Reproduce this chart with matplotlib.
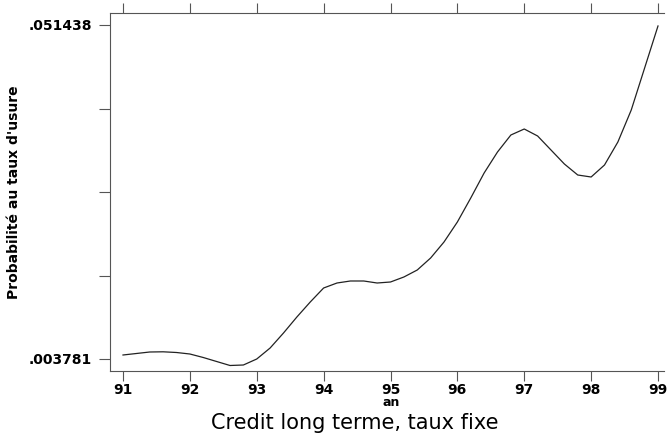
import matplotlib
matplotlib.use("Agg")
import matplotlib.pyplot as plt

# Data (year, probability)
years = [91.0, 91.2, 91.4, 91.6, 91.8, 92.0, 92.2, 92.4, 92.6, 92.8,
         93.0, 93.2, 93.4, 93.6, 93.8, 94.0, 94.2, 94.4, 94.6, 94.8,
         95.0, 95.2, 95.4, 95.6, 95.8, 96.0, 96.2, 96.4, 96.6, 96.8,
         97.0, 97.2, 97.4, 97.6, 97.8, 98.0, 98.2, 98.4, 98.6, 98.8, 99.0]
prob = [0.004352, 0.004566, 0.004780, 0.004808, 0.004708, 0.004494, 0.003995,
        0.003424, 0.002854, 0.002925, 0.003781, 0.005351, 0.007491, 0.009774,
        0.011914, 0.013912, 0.014625, 0.014911, 0.014911, 0.014625, 0.014768,
        0.015481, 0.016480, 0.018192, 0.020475, 0.023329, 0.026753, 0.030321,
        0.033317, 0.035743, 0.036599, 0.035600, 0.033602, 0.031605, 0.030035,
        0.029750, 0.031462, 0.034744, 0.039310, 0.045303, 0.051300]

x_ticks = [91, 92, 93, 94, 95, 96, 97, 98, 99]
y_min_label = 0.003781
y_max_label = 0.051438
y_tick_labels = [".003781", "", "", "", ".051438"]

fig = plt.figure(figsize=(6.71, 4.34), dpi=100)
ax = fig.add_axes([110/671, 1 - 371/434, 554/671, 358/434])

ax.plot(years, prob, color="#222222", lw=0.9)

step = (y_max_label - y_min_label) / 4
yt = [y_min_label + i * step for i in range(5)]
ax.set_yticks(yt)
ax.set_yticklabels(y_tick_labels)
px = (y_max_label - y_min_label) / 334.0
ax.set_ylim(y_min_label - 12 * px, y_max_label + 12 * px)
ax.set_xlim(91 - 13 / 66.875, 99 + 6 / 66.875)
ax.set_xticks(x_ticks)
ax.set_xticklabels([str(t) for t in x_ticks])

for s in ["left", "top", "bottom"]:
    ax.spines[s].set_color("#555555")
    ax.spines[s].set_linewidth(0.8)
ax.spines["right"].set_visible(False)

ax.tick_params(axis="y", direction="out", length=8, width=0.8, color="#555555",
               labelsize=10, pad=5)
ax.tick_params(axis="x", direction="out", length=7, width=0.8, color="#555555",
               labelsize=10, pad=2, top=True)
for lab in ax.get_xticklabels() + ax.get_yticklabels():
    lab.set_fontfamily("DejaVu Sans")
    lab.set_fontweight("bold")

ax.set_ylabel("Probabilité au taux d'usure", fontsize=10, fontweight="bold",
              family="DejaVu Sans")
ax.yaxis.set_label_coords(-(110 - 21)/554, 0.5)
ax.set_xlabel("an", fontsize=9, fontweight="bold", family="DejaVu Sans")
ax.xaxis.set_label_coords((391 - 110)/554, -(403 - 371)/358)
ax.xaxis.label.set_va("center")
fig.text(355/671, 1 - 423/434, "Credit long terme, taux fixe", ha="center", va="center",
         fontsize=15, family="DejaVu Sans")

fig.savefig("out.png", dpi=100)
